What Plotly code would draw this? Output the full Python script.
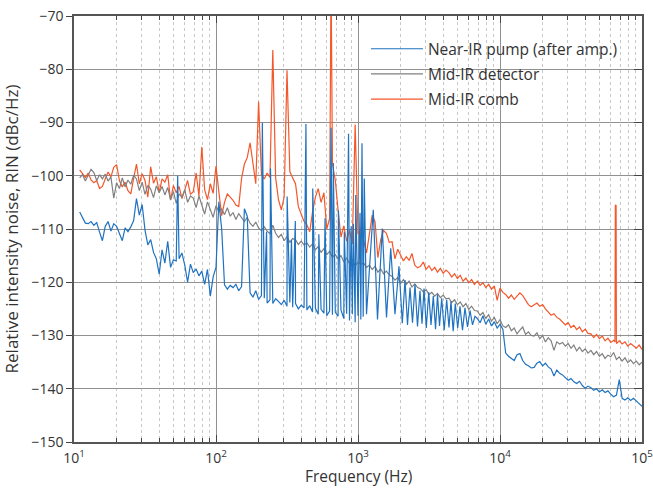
import numpy as np
import plotly.graph_objects as go

# ---------------- data ----------------
# Mid-IR detector: readings on 0.02-decade bins, 11 Hz .. 100 kHz
detector_rin = [
    -100.4, -99.8, -101.0, -100.0, -98.8, -99.4, -100.9, -99.8, -100.6, -99.7,
    -101.0, -100.2, -104.2, -101.3, -102.4, -100.4, -102.1, -100.8, -101.6, -99.9,
    -100.6, -102.8, -101.2, -103.5, -101.8, -102.5, -104.1, -101.9, -103.2, -102.0,
    -103.6, -102.2, -104.5, -103.0, -105.2, -103.4, -104.0, -102.6, -105.0, -103.8,
    -104.2, -106.0, -103.8, -105.5, -107.2, -104.9, -106.4, -107.8, -105.6, -106.8,
    -106.2, -107.3, -106.0, -107.6, -106.9, -108.2, -107.1, -107.9, -108.6, -107.8,
    -108.9, -109.5, -108.7, -109.8, -110.3, -109.6, -110.4, -110.9, -109.3, -110.8,
    -111.6, -111.0, -112.2, -111.4, -112.5, -111.8, -112.0, -112.9, -112.3, -113.0,
    -112.6, -113.4, -112.8, -113.9, -113.3, -114.4, -113.7, -114.8, -114.2, -115.3,
    -114.8, -115.6, -115.0, -116.2, -115.4, -116.5, -115.8, -116.9, -116.2, -116.6,
    -116.4, -117.2, -116.8, -117.6, -117.0, -118.1, -117.5, -118.4, -117.9, -118.6,
    -118.9, -119.6, -119.1, -120.2, -119.5, -120.4, -119.8, -120.9, -120.3, -121.0,
    -121.2, -121.8, -121.4, -122.3, -121.9, -122.6, -122.1, -122.9, -122.4, -123.1,
    -123.0, -123.8, -123.3, -124.2, -123.7, -124.6, -124.0, -125.1, -124.5, -125.3,
    -125.4, -126.2, -125.7, -126.8, -126.1, -127.3, -126.6, -127.8, -127.0, -128.2,
    -128.5, -128.0, -129.1, -128.6, -129.7, -129.0, -128.4, -129.8, -129.3, -130.0,
    -130.1, -129.5, -130.6, -130.0, -131.2, -130.4, -131.0, -132.8, -131.2, -131.6,
    -131.3, -132.0, -131.5, -132.4, -131.8, -132.9, -132.2, -133.0, -132.5, -133.3,
    -132.8, -133.6, -133.0, -133.9, -133.4, -134.3, -133.7, -134.0, -133.2, -134.5,
    -134.0, -134.8, -134.2, -135.1, -134.6, -135.3, -134.8, -135.5, -135.0,
]

# Mid-IR comb: same bins
comb_rin = [
    -98.9, -99.6, -100.3, -99.5, -100.8, -101.3, -100.9, -102.4, -102.0, -100.6,
    -99.3, -100.2, -98.4, -97.9, -100.9, -102.1, -101.2, -102.8, -103.4, -100.5,
    -97.8, -101.5, -99.6, -100.9, -104.0, -98.3, -101.4, -100.2, -103.1, -100.6,
    -101.2, -99.8, -104.6, -101.8, -103.2, -102.0, -104.3, -102.7, -100.9, -103.5,
    -103.0, -99.5, -103.8, -94.6, -102.6, -104.5, -101.5, -103.3, -98.2, -103.0,
    -107.5, -105.0, -103.4, -104.0, -104.6, -105.5, -105.8, -100.5, -97.8, -96.6,
    -93.8, -97.6, -101.5, -86.1, -99.8, -100.6, -99.5, -100.3, -76.4, -100.4,
    -104.5, -106.4, -104.0, -80.2, -99.2, -100.4, -101.5, -105.8, -107.1, -108.6,
    -109.2, -110.5, -106.8, -104.0, -102.4, -105.0, -103.2, -110.0, -108.0, -97.8,
    -100.8, -106.5, -111.5, -109.4, -112.3, -110.2, -112.8, -90.4, -111.0, -109.8,
    -112.0, -114.5, -111.0, -107.4, -108.6, -115.4, -112.0, -110.3, -110.8, -112.5,
    -112.4, -115.6, -113.8, -114.8, -116.0, -115.2, -115.9, -114.6, -116.8, -117.3,
    -117.0, -116.2, -117.6, -116.9, -117.8, -117.2, -118.1, -117.4, -118.3, -117.7,
    -118.2, -119.0, -118.4, -119.3, -118.7, -119.8, -119.2, -120.1, -119.5, -120.4,
    -119.8, -120.6, -120.1, -121.0, -120.4, -121.3, -120.7, -123.4, -121.1, -121.9,
    -122.3, -123.0, -122.4, -123.2, -122.6, -122.0, -122.5, -123.3, -124.2, -124.6,
    -124.3, -123.9, -124.5, -124.2, -125.0, -125.6, -126.2, -125.9, -126.6, -126.9,
    -127.4, -128.0, -127.6, -128.5, -128.1, -128.9, -128.4, -129.3, -128.8, -129.6,
    -129.7, -130.4, -129.8, -130.6, -130.1, -131.0, -130.5, -131.3, -130.9, -131.5,
    -131.0, -131.6, -131.2, -132.0, -131.5, -131.9, -132.4, -131.8, -132.6,
]
comb_peak_hz = [646.0, 64500.0, 64900.0, 65700.0, 66000.0]
comb_peak_rin = [-62.0, -131.2, -105.5, -105.6, -131.0]

# Near-IR pump: 0.02-decade bins 11 Hz .. 1.05 kHz
pump_low_rin = [
    -106.8, -108.0, -108.9, -109.0, -108.6, -109.3, -108.8, -110.6, -112.2, -109.5,
    -108.6, -110.4, -109.0, -109.5, -111.0, -112.2, -109.8, -110.5, -109.6, -108.4,
    -104.3, -107.4, -105.4, -110.2, -113.0, -112.0, -114.4, -115.6, -118.5, -113.9,
    -116.4, -112.3, -117.2, -115.8, -116.0, -115.6, -114.5, -116.8, -120.0, -116.6,
    -118.2, -117.5, -118.8, -117.9, -120.4, -117.6, -122.6, -119.0, -117.2, -104.9,
    -110.0, -120.5, -121.3, -120.6, -121.0, -120.4, -121.6, -120.8, -106.2, -107.6,
    -122.0, -122.8, -121.6, -123.2, -122.5, -123.0, -123.9, -123.3, -124.0, -123.1,
    -123.6, -124.2, -123.4, -124.5, -123.8, -124.7, -124.0, -125.0, -124.3, -124.8,
    -125.2, -124.4, -125.6, -124.9, -126.0, -125.1, -125.8, -126.3, -125.4, -126.1,
    -125.6, -126.4, -125.2, -126.8, -125.9, -127.2, -126.0, -127.5, -126.3, -127.0,
]
# Near-IR pump: narrow lines 50 Hz .. 1.1 kHz
pump_line_hz = [53.7, 212, 227, 242, 317, 340, 362, 430, 480, 530, 586, 646, 670,
                728, 801, 858, 895, 927, 964, 1033, 1067, 1088, 1107]
pump_line_rin = [-100.0, -90.0, -110.5, -98.6, -103.9, -112.0, -108.5, -90.3, -102.4,
                 -111.0, -108.0, -91.0, -97.6, -106.5, -110.5, -92.1, -109.5, -109.0,
                 -103.6, -107.0, -93.9, -126.5, -100.5]
# Near-IR pump: ringing 1.1 kHz .. 6.7 kHz (maxima / minima)
pump_ring_hz = [1148, 1281, 1372, 1483, 1588, 1700, 1822, 1944, 2051, 2143,
                2232, 2325, 2420, 2520, 2624, 2733, 2823, 2916, 3027, 3148,
                3267, 3391, 3515, 3631, 3750, 3886, 4046, 4213, 4373, 4517,
                4681, 4844, 5036, 5227, 5443, 5668, 5903, 6147, 6402, 6667]
pump_ring_rin = [-126.0, -106.4, -127.0, -109.9, -126.6, -113.6, -126.0, -117.0, -127.7, -119.6,
                 -128.0, -121.0, -127.6, -120.4, -128.3, -121.6, -127.8, -121.2, -128.6, -121.9,
                 -128.0, -122.6, -128.8, -122.3, -128.2, -123.0, -129.0, -123.3, -128.5, -123.6,
                 -129.2, -124.0, -128.6, -124.5, -129.0, -124.8, -128.4, -125.3, -128.0, -126.4]
# Near-IR pump: 0.02-decade bins 6.9 kHz .. 100 kHz
pump_high_rin = [
    -126.8, -127.6, -126.3, -127.9, -126.9, -128.2, -127.4, -128.6, -127.9, -128.8,
    -133.3, -133.9, -134.3, -134.7, -133.6, -133.4, -134.7, -135.4, -135.7, -136.1,
    -136.0, -135.2, -134.9, -135.7, -135.2, -135.9, -136.3, -137.6, -136.5, -137.1,
    -137.4, -137.9, -138.4, -138.1, -138.7, -139.0, -138.6, -139.4, -139.9, -139.5,
    -139.8, -140.3, -140.0, -140.6, -140.2, -140.7, -140.4, -141.0, -141.5, -141.2,
    -138.3, -141.8, -142.1, -141.7, -142.2, -141.8, -142.4, -142.8, -143.3,
]

series_names = ["Near-IR pump (after amp.)", "Mid-IR detector", "Mid-IR comb"]
x_title = "Frequency (Hz)"
y_title = "Relative intensity noise, RIN (dBc/Hz)"
x_ticks = [10, 100, 1000, 10000, 100000]
x_ticktext = ["10<sup>1</sup>", "10<sup>2</sup>", "10<sup>3</sup>", "10<sup>4</sup>", "10<sup>5</sup>"]
y_ticks = [-150, -140, -130, -120, -110, -100, -90, -80, -70]

# ---------------- assemble ----------------
def bins(lo, hi, vals):
    return list(np.logspace(lo, hi, len(vals)))


def merged(fs, vs):
    f = np.concatenate([np.asarray(a, float) for a in fs])
    v = np.concatenate([np.asarray(a, float) for a in vs])
    o = np.argsort(f, kind="stable")
    return f[o], v[o]


det_f, det_v = merged([bins(1.04, 5.0, detector_rin)], [detector_rin])
comb_f, comb_v = merged([bins(1.04, 5.0, comb_rin), comb_peak_hz], [comb_rin, comb_peak_rin])
pump_f, pump_v = merged(
    [bins(1.04, 3.02, pump_low_rin), pump_line_hz, pump_ring_hz, bins(3.84, 5.0, pump_high_rin)],
    [pump_low_rin, pump_line_rin, pump_ring_rin, pump_high_rin],
)

BLUE = "#1f72c0"
GRAY = "#808080"
ORANGE = "#f4572a"
FONT = "Open Sans"
AXIS = "#555555"
TEXT = "#333333"

fig = go.Figure()
fig.add_trace(go.Scatter(x=comb_f, y=comb_v, mode="lines", name=series_names[2],
                         line=dict(color=ORANGE, width=1.2), legendrank=3, legendgroup="c"))
fig.add_trace(go.Scatter(x=det_f, y=det_v, mode="lines", name=series_names[1],
                         line=dict(color=GRAY, width=1.2), legendrank=2, legendgroup="b"))
fig.add_trace(go.Scatter(x=pump_f, y=pump_v, mode="lines", name=series_names[0],
                         line=dict(color=BLUE, width=1.2), legendrank=1, legendgroup="a"))
# empty trace so that the right-hand tick axis is drawn
fig.add_trace(go.Scatter(x=[], y=[], yaxis="y2", showlegend=False, hoverinfo="skip"))

minor_vals = [m * 10 ** k for k in range(1, 5) for m in range(2, 10)]

fig.update_layout(
    width=653, height=488,
    margin=dict(l=74, r=11, t=16, b=46, autoexpand=False),
    paper_bgcolor="white", plot_bgcolor="white",
    font=dict(family=FONT, size=14, color=TEXT),
    showlegend=True,
    legend=dict(x=0.514, y=0.962, xanchor="left", yanchor="top",
                bgcolor="rgba(0,0,0,0)", font=dict(size=15.5, color=TEXT),
                itemwidth=52, tracegroupgap=2, traceorder="grouped"),
    xaxis=dict(type="log", range=[1, 5], tickvals=x_ticks, ticktext=x_ticktext,
               ticks="inside", ticklen=7, tickcolor="#444444", tickwidth=1,
               showline=True, linecolor=AXIS, linewidth=1.5, mirror="ticks",
               showgrid=True, gridcolor="#919191", gridwidth=1, zeroline=False,
               automargin=False, ticklabelstandoff=2, ticklabeloverflow="allow",
               minor=dict(tickvals=minor_vals, ticks="inside", ticklen=4,
                          tickcolor="#444444", showgrid=True, gridcolor="#c8c8c8",
                          griddash="3px,3px", gridwidth=1),
               tickfont=dict(size=14)),
    yaxis=dict(range=[-150, -70], tickvals=y_ticks, ticks="outside", ticklen=6,
               tickcolor="#444444", showline=True, linecolor=AXIS, linewidth=1.5,
               mirror=True, showgrid=True, gridcolor="#919191", gridwidth=1,
               zeroline=False, automargin=False,
               title=dict(text=y_title, standoff=8),
               tickfont=dict(size=14)),
    yaxis2=dict(range=[-150, -70], tickvals=y_ticks, overlaying="y", side="right",
                ticks="inside", ticklen=8, tickcolor="#444444", showticklabels=False,
                showgrid=False, zeroline=False, showline=True, linecolor=AXIS,
                linewidth=1.5, automargin=False),
    annotations=[dict(text=x_title, xref="paper", yref="paper", x=0.5, y=-0.108,
                      xanchor="center", yanchor="bottom", showarrow=False, borderpad=0,
                      font=dict(size=15.5, color=TEXT, family=FONT))],
    shapes=[dict(type="rect", xref="paper", yref="paper", x0=0.498, x1=0.985,
                 y0=0.76, y1=1.0, fillcolor="white", line=dict(width=0), layer="between")],
)

fig.write_html("out.html", config={"displayModeBar": False},
               post_script="document.body.style.margin='0';document.body.style.overflow='hidden';")
